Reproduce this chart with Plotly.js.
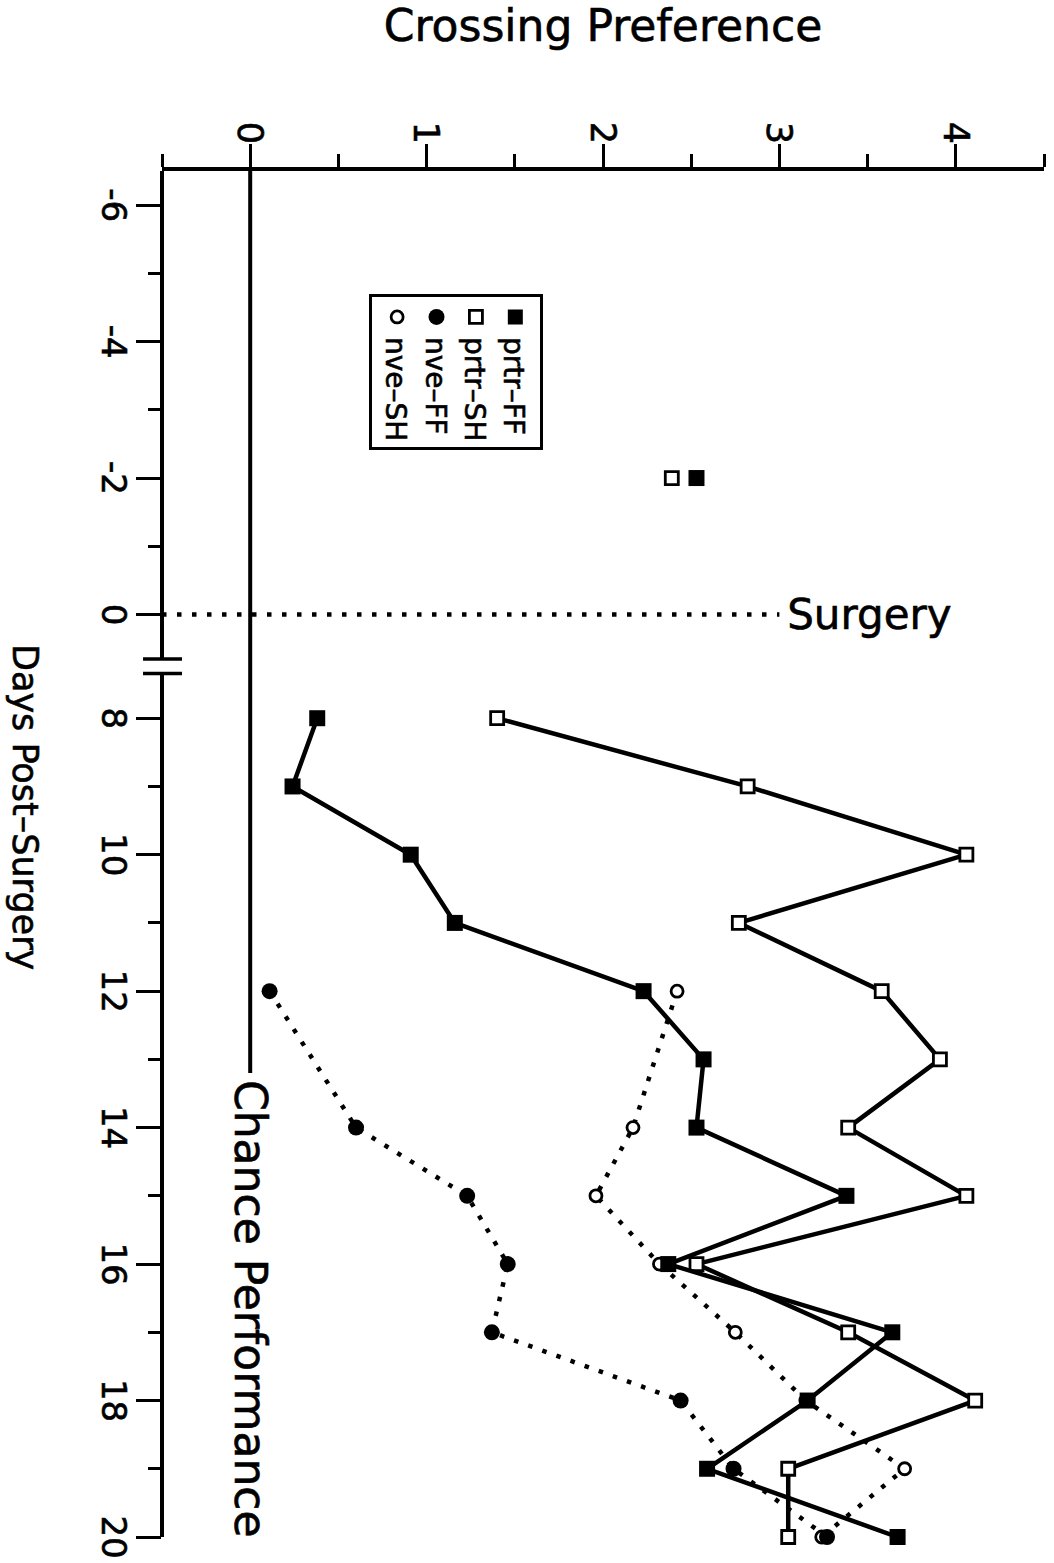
<!DOCTYPE html>
<html>
<head>
<meta charset="utf-8">
<script src="https://cdn.plot.ly/plotly-3.0.1.min.js"></script>
<style>
  html, body { margin: 0; padding: 0; background: #fff; overflow: hidden; }
  #page { position: absolute; left: 0; top: 0; width: 1054px; height: 1563px; overflow: hidden; background: #fff; }
  /* The figure is laid out landscape and turned a quarter turn clockwise onto the page. */
  #chart { position: absolute; left: 0; top: 0; width: 1563px; height: 1054px;
           transform-origin: 0 0; transform: translateX(1054px) rotate(90deg); }
  /* slightly heavier lettering */
  #chart text { stroke: #000; stroke-width: 0.6px; }
</style>
</head>
<body>
<div id="page"><div id="chart"></div></div>
<script>
// ---- data -------------------------------------------------------------
const prtrDays = [-2, 8, 9, 10, 11, 12, 13, 14, 15, 16, 17, 18, 19, 20];
const prtrFF   = [2.53, 0.38, 0.24, 0.91, 1.16, 2.23, 2.57, 2.53, 3.38, 2.37, 3.64, 3.16, 2.59, 3.67];
const prtrSH   = [2.39, 1.40, 2.82, 4.06, 2.77, 3.58, 3.91, 3.39, 4.06, 2.53, 3.39, 4.11, 3.05, 3.05];

const nveDays  = [12, 14, 15, 16, 17, 18, 19, 20];
const nveFF    = [0.11, 0.60, 1.23, 1.46, 1.37, 2.44, 2.74, 3.27];
const nveSH    = [2.42, 2.17, 1.96, 2.32, 2.75, 3.15, 3.71, 3.24];

const seriesNames = ['prtr–FF', 'prtr–SH', 'nve–FF', 'nve–SH'];

const dayTicks      = [-6, -4, -2, 0, 8, 10, 12, 14, 16, 18, 20];
const dayMinorTicks = [-5, -3, -1, 9, 11, 13, 15, 17, 19];
const prefTicks      = [0, 1, 2, 3, 4];
const prefMinorTicks = [-0.5, 0.5, 1.5, 2.5, 3.5, 4.5];

// ---- broken day axis: days 0..8 are squeezed into a short gap ----------
const SURGERY_DAY = 0;
const RESUME_DAY = 8;
const GAP = 1.52;                       // axis units used by the break
function pos(d) { return d <= SURGERY_DAY ? d : d - RESUME_DAY + SURGERY_DAY + GAP; }
const X_MIN = -6.5, X_MAX = pos(20);
const Y_MIN = -0.5, Y_MAX = 4.5;

// lines are not carried across the surgery break
function series(days, vals) {
  const x = [], y = [];
  days.forEach((d, i) => {
    if (i > 0 && days[i - 1] <= SURGERY_DAY && d >= RESUME_DAY) { x.push(null); y.push(null); }
    x.push(pos(d)); y.push(vals[i]);
  });
  return {x, y};
}

const DOT = '4.5px,10.5px';
const FONT = 'DejaVu Sans, Verdana, sans-serif';

const styles = {
  prtrFF: {line: {color: '#000', width: 4.5}, marker: {symbol: 'square', size: 16, color: '#000'}},
  prtrSH: {line: {color: '#000', width: 4.5}, marker: {symbol: 'square', size: 13, color: '#fff', line: {color: '#000', width: 2.8}}},
  nveFF:  {line: {color: '#000', width: 4.5, dash: DOT}, marker: {symbol: 'circle', size: 16, color: '#000'}},
  nveSH:  {line: {color: '#000', width: 4.5, dash: DOT}, marker: {symbol: 'circle', size: 12, color: '#fff', line: {color: '#000', width: 2.8}}}
};

function dataTrace(days, vals, st, name) {
  const s = series(days, vals);
  return Object.assign({type: 'scatter', mode: 'lines+markers', x: s.x, y: s.y,
    connectgaps: false, cliponaxis: false, showlegend: false, name: name, hoverinfo: 'skip'}, st);
}
function keyTrace(st, name, size) {
  return {type: 'scatter', mode: 'markers', x: [null], y: [null], name: name,
    marker: Object.assign({}, st.marker, {size: size})};
}

const traces = [
  dataTrace(nveDays, nveSH, styles.nveSH, seriesNames[3]),
  dataTrace(nveDays, nveFF, styles.nveFF, seriesNames[2]),
  dataTrace(prtrDays, prtrSH, styles.prtrSH, seriesNames[1]),
  dataTrace(prtrDays, prtrFF, styles.prtrFF, seriesNames[0]),
  keyTrace(styles.prtrFF, seriesNames[0], 15),
  keyTrace(styles.prtrSH, seriesNames[1], 13),
  keyTrace(styles.nveFF, seriesNames[2], 16),
  keyTrace(styles.nveSH, seriesNames[3], 12)
];

const breakA = pos(SURGERY_DAY) + 0.43 * GAP;
const breakB = pos(SURGERY_DAY) + 0.57 * GAP;
const chanceEnd = pos(13.2);

const shapes = [
  // day axis, interrupted at the break
  {type: 'line', xref: 'x', yref: 'paper', x0: X_MIN, x1: breakA, y0: 0, y1: 0, line: {color: '#000', width: 4}},
  {type: 'line', xref: 'x', yref: 'paper', x0: breakB, x1: X_MAX, y0: 0, y1: 0, line: {color: '#000', width: 4}},
  {type: 'line', xref: 'x', yref: 'paper', x0: breakA, x1: breakA, y0: -0.0215, y1: 0.0227, line: {color: '#000', width: 3.5}},
  {type: 'line', xref: 'x', yref: 'paper', x0: breakB, x1: breakB, y0: -0.0215, y1: 0.0227, line: {color: '#000', width: 3.5}},
  // chance level
  {type: 'line', xref: 'x', yref: 'y', x0: X_MIN, x1: chanceEnd, y0: 0, y1: 0, line: {color: '#000', width: 4}},
  // day of surgery
  {type: 'line', xref: 'x', yref: 'y', x0: pos(SURGERY_DAY), x1: pos(SURGERY_DAY), y0: Y_MIN, y1: 3.0,
   line: {color: '#000', width: 4.5, dash: DOT}}
];

const annotations = [
  {xref: 'x', yref: 'y', x: pos(13.28), y: 0, text: 'Chance Performance', showarrow: false,
   xanchor: 'left', yanchor: 'middle', font: {family: FONT, size: 44, color: '#000'}},
  {xref: 'x', yref: 'y', x: pos(SURGERY_DAY), y: 3.03, text: 'Surgery', showarrow: false, textangle: -90,
   xanchor: 'center', yanchor: 'bottom', font: {family: FONT, size: 42, color: '#000'}},
  // title of the day axis (centred on the labelled range rather than the full axis)
  {xref: 'paper', yref: 'paper', x: 0.4656, y: -0.1553, text: 'Days Post–Surgery', showarrow: false,
   xanchor: 'center', yanchor: 'middle', font: {family: FONT, size: 35, color: '#000'}}
];

const layout = {
  width: 1563, height: 1054,
  margin: {l: 171, r: 26, t: 10, b: 162, pad: 0},
  paper_bgcolor: '#fff', plot_bgcolor: '#fff',
  font: {family: FONT, color: '#000'},
  showlegend: true,
  legend: {x: 0.09, y: 0.432, xanchor: 'left', yanchor: 'top', bgcolor: '#fff',
           bordercolor: '#000', borderwidth: 3, font: {family: FONT, size: 28, color: '#000'},
           traceorder: 'normal'},
  xaxis: {
    range: [X_MIN, X_MAX], showgrid: false, zeroline: false, showline: false,
    tickmode: 'array', tickvals: dayTicks.map(pos), ticktext: dayTicks.map(String),
    ticks: 'outside', ticklen: 25, tickwidth: 3, tickcolor: '#000', ticklabelstandoff: -7,
    tickfont: {family: FONT, size: 34, color: '#000'},
    minor: {tickmode: 'array', tickvals: dayMinorTicks.map(pos), ticks: 'outside', ticklen: 13, tickwidth: 3, tickcolor: '#000', showgrid: false}
  },
  yaxis: {
    range: [Y_MIN, Y_MAX], showgrid: false, zeroline: false,
    showline: true, linecolor: '#000', linewidth: 4,
    tickmode: 'array', tickvals: prefTicks,
    ticks: 'outside', ticklen: 23, tickwidth: 3, tickcolor: '#000', ticklabelstandoff: -7,
    tickfont: {family: FONT, size: 35, color: '#000'},
    minor: {tickmode: 'array', tickvals: prefMinorTicks, ticks: 'outside', ticklen: 13, tickwidth: 3, tickcolor: '#000', showgrid: false},
    title: {text: 'Crossing Preference', font: {family: FONT, size: 44, color: '#000'}, standoff: 73}
  },
  shapes: shapes,
  annotations: annotations
};

Plotly.newPlot('chart', traces, layout, {staticPlot: true, displayModeBar: false});
</script>
</body>
</html>
